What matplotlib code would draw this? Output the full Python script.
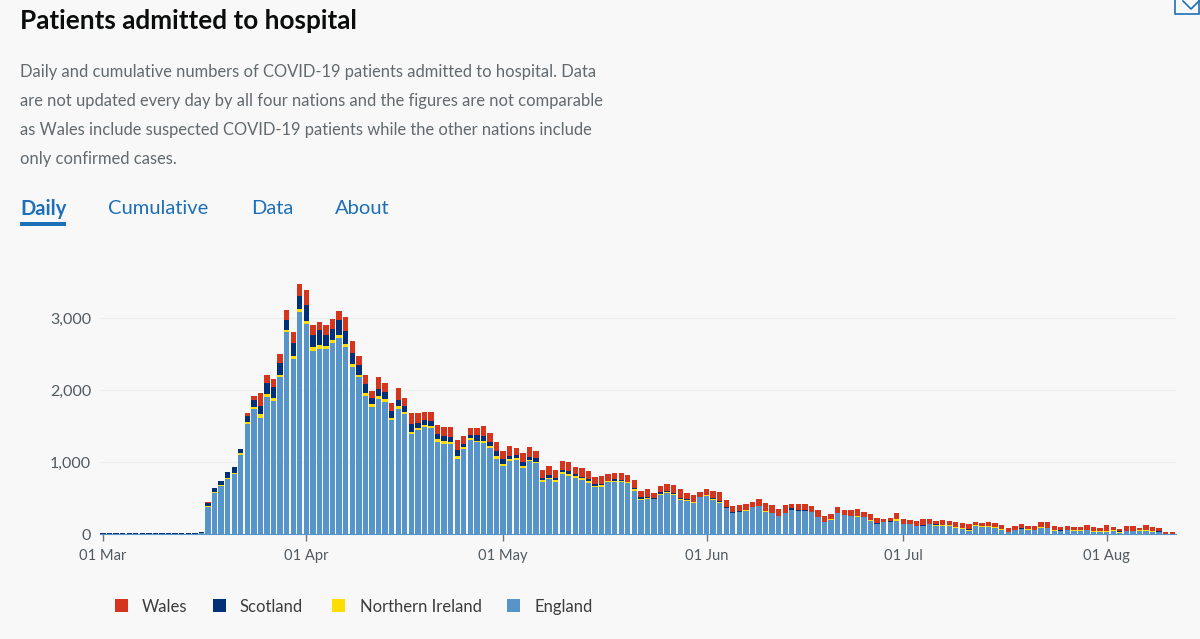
import matplotlib
matplotlib.use('Agg')
import matplotlib.pyplot as plt
import matplotlib.dates as mdates
from matplotlib.patches import Rectangle
import numpy as np
import pandas as pd

plt.rcParams['font.family'] = ['Lato', 'DejaVu Sans']

# Daily values, starting 01 Mar 2020
england = [3, 2, 2, 3, 5, 5, 3, 2, 5, 5, 5, 5, 5, 5, 5, 8,
           380, 565, 667, 764, 833, 1097, 1528, 1731, 1616, 1907, 1852, 2176, 2801, 2430, 3079, 2917,
           2542, 2574, 2569, 2653, 2727, 2597, 2324, 2176, 1917, 1759, 1875, 1833, 1583, 1736, 1667, 1389,
           1444, 1491, 1472, 1282, 1250, 1250, 1046, 1180, 1306, 1273, 1259, 1194, 1042, 949, 1019, 1028,
           917, 1019, 981, 727, 759, 722, 833, 801, 778, 750, 708, 653, 657, 718, 727, 718,
           704, 602, 472, 486, 481, 546, 565, 546, 472, 454, 431, 509, 532, 477, 431, 356,
           287, 301, 324, 370, 384, 310, 287, 245, 287, 333, 315, 315, 301, 231, 162, 199,
           292, 259, 245, 241, 231, 185, 134, 162, 167, 185, 134, 134, 106, 106, 134, 116,
           116, 116, 83, 74, 46, 116, 102, 102, 83, 60, 23, 56, 65, 56, 56, 83,
           83, 46, 42, 56, 37, 46, 56, 23, 28, 23, 46, 18, 42, 42, 46, 46,
           32, 23, 2, 2]
n_ireland = [0, 0, 0, 0, 0, 0, 0, 0, 0, 0, 0, 0, 0, 0, 0, 0,
             9, 14, 18, 18, 18, 23, 23, 28, 46, 32, 37, 32, 32, 37, 42, 46,
             51, 46, 46, 46, 42, 46, 32, 37, 46, 42, 46, 37, 28, 37, 23, 32,
             28, 28, 32, 37, 37, 28, 37, 28, 28, 23, 32, 28, 37, 28, 23, 28,
             32, 14, 23, 23, 23, 28, 28, 37, 23, 23, 23, 18, 18, 14, 14, 18,
             14, 28, 18, 14, 9, 14, 14, 9, 14, 14, 9, 5, 5, 9, 14, 5,
             5, 5, 5, 5, 5, 5, 5, 5, 3, 3, 3, 3, 3, 5, 3, 3,
             3, 3, 3, 3, 3, 3, 3, 3, 3, 18, 3, 3, 3, 3, 3, 14,
             3, 9, 9, 5, 3, 3, 9, 3, 9, 3, 3, 3, 9, 9, 3, 9,
             3, 3, 5, 3, 14, 9, 3, 14, 9, 14, 3, 14, 3, 3, 3, 3,
             9, 9, 0, 0]
scotland = [8, 8, 8, 8, 14, 14, 8, 8, 12, 12, 12, 12, 12, 12, 12, 20,
            46, 55, 51, 79, 79, 60, 93, 102, 116, 153, 148, 162, 144, 190, 190, 213,
            171, 213, 153, 148, 204, 171, 153, 130, 120, 83, 88, 102, 93, 93, 93, 106,
            69, 65, 69, 69, 79, 74, 88, 42, 42, 83, 65, 56, 69, 60, 46, 46,
            56, 42, 46, 23, 42, 28, 32, 32, 28, 23, 28, 18, 14, 9, 18, 14,
            9, 9, 18, 9, 9, 18, 14, 18, 9, 14, 9, 5, 5, 9, 14, 9,
            9, 9, 9, 5, 5, 5, 5, 5, 5, 20, 15, 10, 5, 3, 3, 9,
            3, 3, 3, 3, 3, 5, 9, 5, 5, 3, 5, 3, 3, 18, 5, 3,
            9, 3, 3, 3, 14, 3, 3, 3, 3, 3, 3, 3, 9, 3, 3, 3,
            3, 3, 3, 3, 3, 3, 3, 3, 3, 3, 3, 3, 3, 3, 3, 3,
            3, 3, 0, 0]
wales = [0, 0, 0, 0, 0, 0, 0, 0, 0, 0, 0, 0, 0, 0, 0, 0,
         5, 0, 0, 0, 0, 0, 32, 60, 181, 116, 120, 130, 134, 148, 157, 213,
         139, 116, 134, 139, 125, 199, 167, 134, 125, 102, 171, 125, 116, 162, 106, 153,
         134, 106, 116, 125, 125, 130, 139, 116, 102, 88, 139, 125, 134, 111, 134, 88,
         125, 134, 102, 120, 125, 106, 120, 125, 102, 116, 111, 97, 116, 97, 92, 97,
         92, 116, 88, 116, 74, 92, 102, 106, 125, 88, 88, 65, 83, 102, 130, 102,
         83, 92, 79, 69, 92, 106, 106, 92, 112, 56, 84, 89, 85, 90, 87, 67,
         82, 73, 82, 100, 64, 89, 76, 38, 52, 86, 62, 54, 64, 77, 62, 52,
         66, 57, 72, 71, 76, 45, 43, 59, 58, 54, 59, 49, 53, 43, 49, 76,
         73, 59, 47, 49, 39, 39, 68, 57, 48, 80, 45, 39, 63, 63, 36, 68,
         53, 53, 30, 30]

series_names = ['Wales', 'Scotland', 'Northern Ireland', 'England']
y_ticks = [0, 1000, 2000, 3000]
x_tick_dates = ['2020-03-01', '2020-04-01', '2020-05-01', '2020-06-01', '2020-07-01', '2020-08-01']

title = 'Patients admitted to hospital'
intro = ['Daily and cumulative numbers of COVID-19 patients admitted to hospital. Data',
         'are not updated every day by all four nations and the figures are not comparable',
         'as Wales include suspected COVID-19 patients while the other nations include',
         'only confirmed cases.']
tabs = ['Daily', 'Cumulative', 'Data', 'About']

WALES = '#d4351c'
SCOT = '#003078'
NI = '#ffdd00'
ENG = '#5694ca'
BG = '#f8f8f8'
W, H = 1200, 639

dates = pd.date_range('2020-03-01', periods=len(england))
eng = np.array(england)
ni = np.array(n_ireland)
sco = np.array(scotland)
wal = np.array(wales)

fig = plt.figure(figsize=(W / 100, H / 100), dpi=100, facecolor=BG)

# chart axes placed in pixels: y=0 at 534, 1000 patients = 72px
left, right, base, top = 100, 1176, 534, 270
ax = fig.add_axes([left / W, 1 - base / H, (right - left) / W, (base - top) / H], facecolor=BG)
ax.bar(dates, eng, width=0.82, color=ENG, linewidth=0)
ax.bar(dates, ni, width=0.82, bottom=eng, color=NI, linewidth=0)
ax.bar(dates, sco, width=0.82, bottom=eng + ni, color=SCOT, linewidth=0)
ax.bar(dates, wal, width=0.82, bottom=eng + ni + sco, color=WALES, linewidth=0)

d0 = mdates.date2num(dates[0])
ax.set_xlim(d0 - 3 / 6.56, d0 + (right - 103) / 6.56)
ax.set_ylim(0, (base - top) / 0.072)
ax.set_yticks(y_ticks)
ax.set_yticklabels([f'{v:,}' for v in y_ticks], fontsize=11.5, color='#505a5f')
ax.set_xticks(pd.to_datetime(x_tick_dates))
ax.set_xticklabels([pd.Timestamp(d).strftime('%d %b') for d in x_tick_dates], fontsize=10.6, color='#505a5f')
ax.tick_params(axis='y', length=0, pad=6.5)
ax.tick_params(axis='x', length=5, width=1, color='#6f777b', pad=6)
ax.grid(axis='y', color='#eeeeee', linewidth=1)
ax.set_axisbelow(True)
for s in ['top', 'right', 'left']:
    ax.spines[s].set_visible(False)
ax.spines['bottom'].set_color('#5694ca')

# page furniture, in pixel coordinates
page = fig.add_axes([0, 0, 1, 1], facecolor='none')
page.set_xlim(0, W)
page.set_ylim(H, 0)
page.axis('off')

page.text(20, 21, title, fontsize=18.8, fontweight='bold', color='#0b0c0c', va='center')
for i, line in enumerate(intro):
    page.text(20, 72 + i * 29, line, fontsize=11.88, color='#626a6e', va='center')

tab_x = [20, 108, 251, 335]
for i, (name, x) in enumerate(zip(tabs, tab_x)):
    page.text(x, 209, name, fontsize=14.5, color='#1d70b8', va='center',
              fontweight='bold' if i == 0 else 'normal')
page.add_patch(Rectangle((20, 222), 46, 4, color='#1d70b8', linewidth=0))

# legend
leg_colors = [WALES, SCOT, NI, ENG]
leg_box = [115, 213, 332, 507]
leg_text = [142, 240, 360, 535]
for name, c, bx, tx in zip(series_names, leg_colors, leg_box, leg_text):
    page.add_patch(Rectangle((bx, 599), 13, 13, color=c, linewidth=0))
    page.text(tx, 607, name, fontsize=12, color='#3c3c3c', va='center')

# corner of the download icon, cut off by the screenshot
page.add_patch(Rectangle((1175, -4), 24, 18, facecolor=BG, edgecolor='#1d70b8', linewidth=1.2))
page.plot([1183, 1191, 1199], [1, 9, 1], color='#1d70b8', linewidth=1.2)

fig.savefig('out.png', dpi=100, facecolor=BG)
